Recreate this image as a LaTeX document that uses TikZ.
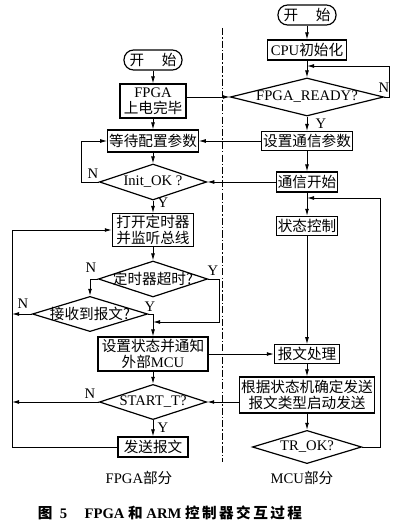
\documentclass[tikz,border=0pt]{standalone}
\usepackage{fontspec}
\setmainfont{Liberation Serif}
\newfontfamily\cjk{Noto Sans CJK SC}
\usetikzlibrary{arrows.meta,shapes.geometric}
\newcommand{\zh}[1]{{\cjk #1}}
\begin{document}
\begin{tikzpicture}[x=0.025cm,y=-0.025cm,font=\fontsize{10.4}{11.6}\selectfont,
  line width=0.6pt,>={Latex[length=5pt,width=2.8pt]},
  box/.style={draw,line width=0.85pt,align=center,inner sep=1pt},
  pill/.style={box,rounded corners=0.24cm,minimum width=1.45cm,minimum height=0.5cm},
  dec/.style={draw,line width=0.85pt,diamond,inner sep=0pt},
  yn/.style={inner sep=0pt}]
\useasboundingbox (0,0) rectangle (400,530);
% divider
\draw[line width=0.5pt,dash pattern={on 5pt off 1.5pt on 1pt off 1.5pt}] (222,28) -- (222,462);
% FPGA side
\node[pill] (fstart) at (153,60) {\zh{开\hspace{1.2em}始}};
\node[box,minimum width=1.65cm,minimum height=0.85cm] (fpower) at (153,101) {FPGA\\\zh{上电完毕}};
\node[box,minimum width=2.25cm,minimum height=0.55cm] (fwait) at (153,141) {\zh{等待配置参数}};
\node[dec,minimum width=2.68cm,minimum height=0.9cm,label={center:Init\_OK ?}] (finit) at (153,182) {};
\node[box,minimum width=2.03cm,minimum height=0.75cm] (ftimer) at (153,230) {\zh{打开定时器}\\\zh{并监听总线}};
\node[dec,minimum width=2.73cm,minimum height=0.9cm,label={center:\zh{定时器超时?}}] (ftout) at (153,279) {};
\node[dec,minimum width=2.88cm,minimum height=0.88cm,label={center:\zh{接收到报文?}}] (frecv) at (90,314) {};
\node[box,minimum width=2.75cm,minimum height=0.85cm] (fset) at (153,354) {\zh{设置状态并通知}\\\zh{外部}MCU};
\node[dec,minimum width=2.68cm,minimum height=0.88cm,label={center:START\_T?}] (fstartt) at (153,402) {};
\node[box,minimum width=1.75cm,minimum height=0.5cm] (fsend) at (153,447) {\zh{发送报文}};
\coordinate (lb) at (12,447);
\coordinate (tj) at (153,322);
% MCU side
\node[pill] (mstart) at (307,15) {\zh{开\hspace{1.2em}始}};
\node[box,minimum width=1.98cm,minimum height=0.5cm] (mcpu) at (307,50) {CPU\zh{初始化}};
\node[dec,minimum width=3.83cm,minimum height=0.95cm,label={center:FPGA\_READY?}] (mready) at (307,97) {};
\node[box,minimum width=2.28cm,minimum height=0.47cm] (mparam) at (307,141) {\zh{设置通信参数}};
\node[box,minimum width=1.48cm,minimum height=0.5cm] (mcomm) at (307,182) {\zh{通信开始}};
\node[box,minimum width=1.53cm,minimum height=0.48cm] (mstate) at (307,226) {\zh{状态控制}};
\node[box,minimum width=1.63cm,minimum height=0.46cm] (mproc) at (307,354) {\zh{报文处理}};
\node[box,minimum width=3.33cm,minimum height=0.9cm] (msend) at (307,395) {\zh{根据状态机确定发送}\\\zh{报文类型启动发送}};
\node[dec,minimum width=2.73cm,minimum height=0.83cm,label={center:TR\_OK?}] (mtrok) at (307,447) {};
\coordinate (rj) at (307,66);
\coordinate (tj2) at (307,198);
% Y / N
\node[yn] (yinit) at (163,203) {Y};
\node[yn] (ninit) at (93,174) {N};
\node[yn] (ntout) at (91,268) {N};
\node[yn] (ytout) at (213,271) {Y};
\node[yn] (nrecv) at (23,304) {N};
\node[yn] (yrecv) at (150,307) {Y};
\node[yn] (nstartt) at (90,394) {N};
\node[yn] (ystartt) at (163,428) {Y};
\node[yn] (nready) at (384,88) {N};
\node[yn] (yready) at (321,124) {Y};
% connectors, FPGA
\draw[->] (fstart) -- (fpower);
\draw[->] (fpower) -- (fwait);
\draw[->] (fwait) -- (finit);
\draw[->] (finit) -- (ftimer);
\draw[->] (finit.west) -- ++(-17,0) |- (fwait.west);
\draw[->] (ftimer) -- (ftout);
\draw[->] (ftout.west) -| (frecv.north);
\draw[->] (frecv.east) -| (fset.north);
\draw[->] (ftout.east) -- ++(11,0) |- (tj);
\draw[->] (frecv.west) -- (frecv.west -| lb);
\draw[->] (fset) -- (fstartt);
\draw[->] (fstartt) -- (fsend);
\draw[->] (fstartt.west) -- (fstartt.west -| lb);
\draw[->] (fsend.west) -- (lb) |- (ftimer.west);
% connectors, across
\draw[->] (fpower.east |- mready.west) -- (mready.west);
\draw[->] (mparam) -- (fwait);
\draw[->] (mcomm) -- (finit);
\draw[->] (fset) -- (mproc);
\draw[->] (msend.west |- fstartt.east) -- (fstartt.east);
% connectors, MCU
\draw[->] (mstart) -- (mcpu);
\draw[->] (mcpu) -- (mready);
\draw[->] (mready.east) -- ++(5,0) |- (rj);
\draw[->] (mready) -- (mparam);
\draw[->] (mparam) -- (mcomm);
\draw[->] (mcomm) -- (mstate);
\draw[->] (mstate) -- (mproc);
\draw[->] (mproc) -- (msend);
\draw[->] (msend) -- (mtrok);
\draw[->] (mtrok.east) -- ++(18,0) |- (tj2);
% titles
\node (tfpga) at (139,478) {FPGA\zh{部分}};
\node (tmcu) at (302,478) {MCU\zh{部分}};
\node (cap) at (170,513) {\bfseries\zh{图}\enspace5\hspace{1.2em}FPGA \zh{和} ARM \zh{控\,制\,器\,交\,互\,过\,程}};
\end{tikzpicture}
\end{document}
